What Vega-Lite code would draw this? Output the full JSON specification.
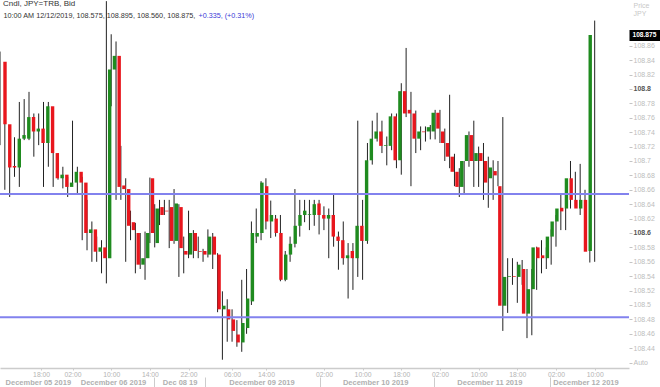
{
  "$schema": "https://vega.github.io/schema/vega-lite/v6.json",
  "width": 629,
  "height": 368,
  "autosize": {"type": "none"},
  "padding": {"left": 0, "top": 0, "right": 31, "bottom": 19},
  "background": "white",
  "config": {"view": {"stroke": null}, "font": "Liberation Sans"},
  "title": {"text": "Cndl, JPY=TRB, Bid", "anchor": "start", "frame": "group", "orient": "top", "offset": -8, "dx": 3, "fontSize": 8, "fontWeight": "normal", "color": "#333333", "font": "Liberation Sans"},
  "data": {"values": [
    {"i":0,"o":108.838,"h":108.852,"l":108.722,"c":108.751},
    {"i":1,"o":108.751,"h":108.776,"l":108.660,"c":108.691},
    {"i":2,"o":108.693,"h":108.715,"l":108.650,"c":108.691},
    {"i":3,"o":108.691,"h":108.733,"l":108.678,"c":108.731},
    {"i":4,"o":108.731,"h":108.782,"l":108.664,"c":108.736},
    {"i":5,"o":108.731,"h":108.786,"l":108.729,"c":108.761},
    {"i":6,"o":108.761,"h":108.796,"l":108.729,"c":108.741},
    {"i":7,"o":108.741,"h":108.766,"l":108.706,"c":108.745},
    {"i":8,"o":108.745,"h":108.766,"l":108.722,"c":108.725},
    {"i":9,"o":108.725,"h":108.782,"l":108.664,"c":108.776},
    {"i":10,"o":108.776,"h":108.782,"l":108.692,"c":108.711},
    {"i":11,"o":108.711,"h":108.731,"l":108.664,"c":108.676},
    {"i":12,"o":108.676,"h":108.711,"l":108.674,"c":108.681},
    {"i":13,"o":108.681,"h":108.692,"l":108.662,"c":108.664},
    {"i":14,"o":108.664,"h":108.678,"l":108.650,"c":108.670},
    {"i":15,"o":108.670,"h":108.756,"l":108.668,"c":108.685},
    {"i":16,"o":108.685,"h":108.692,"l":108.655,"c":108.670},
    {"i":17,"o":108.670,"h":108.678,"l":108.590,"c":108.600},
    {"i":18,"o":108.600,"h":108.646,"l":108.576,"c":108.605},
    {"i":19,"o":108.605,"h":108.616,"l":108.560,"c":108.574},
    {"i":20,"o":108.574,"h":108.595,"l":108.560,"c":108.580},
    {"i":21,"o":108.580,"h":108.590,"l":108.544,"c":108.565},
    {"i":22,"o":108.565,"h":108.922,"l":108.530,"c":108.827},
    {"i":23,"o":108.827,"h":108.876,"l":108.776,"c":108.846},
    {"i":24,"o":108.846,"h":108.866,"l":108.646,"c":108.664},
    {"i":25,"o":108.666,"h":108.721,"l":108.646,"c":108.661},
    {"i":26,"o":108.661,"h":108.676,"l":108.560,"c":108.610},
    {"i":27,"o":108.615,"h":108.631,"l":108.590,"c":108.604},
    {"i":28,"o":108.600,"h":108.614,"l":108.544,"c":108.556},
    {"i":29,"o":108.556,"h":108.600,"l":108.550,"c":108.565},
    {"i":30,"o":108.565,"h":108.602,"l":108.535,"c":108.600},
    {"i":31,"o":108.676,"h":108.677,"l":108.586,"c":108.600},
    {"i":32,"o":108.586,"h":108.640,"l":108.580,"c":108.634},
    {"i":33,"o":108.636,"h":108.646,"l":108.611,"c":108.625},
    {"i":34,"o":108.631,"h":108.646,"l":108.625,"c":108.630},
    {"i":35,"o":108.636,"h":108.646,"l":108.579,"c":108.589},
    {"i":36,"o":108.589,"h":108.661,"l":108.585,"c":108.641},
    {"i":37,"o":108.636,"h":108.640,"l":108.539,"c":108.579},
    {"i":38,"o":108.575,"h":108.595,"l":108.544,"c":108.570},
    {"i":39,"o":108.570,"h":108.631,"l":108.565,"c":108.600},
    {"i":40,"o":108.600,"h":108.604,"l":108.565,"c":108.575},
    {"i":41,"o":108.575,"h":108.595,"l":108.565,"c":108.574},
    {"i":42,"o":108.575,"h":108.578,"l":108.560,"c":108.570},
    {"i":43,"o":108.570,"h":108.605,"l":108.566,"c":108.595},
    {"i":44,"o":108.595,"h":108.600,"l":108.550,"c":108.570},
    {"i":45,"o":108.570,"h":108.572,"l":108.490,"c":108.494},
    {"i":46,"o":108.494,"h":108.519,"l":108.424,"c":108.499},
    {"i":47,"o":108.494,"h":108.508,"l":108.449,"c":108.480},
    {"i":48,"o":108.480,"h":108.494,"l":108.449,"c":108.464},
    {"i":49,"o":108.459,"h":108.479,"l":108.442,"c":108.448},
    {"i":50,"o":108.448,"h":108.535,"l":108.435,"c":108.475},
    {"i":51,"o":108.468,"h":108.550,"l":108.460,"c":108.509},
    {"i":52,"o":108.505,"h":108.616,"l":108.500,"c":108.600},
    {"i":53,"o":108.595,"h":108.634,"l":108.586,"c":108.600},
    {"i":54,"o":108.600,"h":108.672,"l":108.590,"c":108.670},
    {"i":55,"o":108.665,"h":108.676,"l":108.605,"c":108.616},
    {"i":56,"o":108.616,"h":108.645,"l":108.593,"c":108.625},
    {"i":57,"o":108.620,"h":108.625,"l":108.595,"c":108.600},
    {"i":58,"o":108.600,"h":108.625,"l":108.533,"c":108.535},
    {"i":59,"o":108.535,"h":108.575,"l":108.533,"c":108.570},
    {"i":60,"o":108.570,"h":108.595,"l":108.560,"c":108.585},
    {"i":61,"o":108.585,"h":108.661,"l":108.580,"c":108.610},
    {"i":62,"o":108.610,"h":108.646,"l":108.595,"c":108.625},
    {"i":63,"o":108.625,"h":108.646,"l":108.615,"c":108.631},
    {"i":64,"o":108.625,"h":108.646,"l":108.604,"c":108.626},
    {"i":65,"o":108.625,"h":108.646,"l":108.610,"c":108.640},
    {"i":66,"o":108.641,"h":108.646,"l":108.598,"c":108.625},
    {"i":67,"o":108.625,"h":108.637,"l":108.604,"c":108.620},
    {"i":68,"o":108.620,"h":108.634,"l":108.565,"c":108.625},
    {"i":69,"o":108.625,"h":108.655,"l":108.581,"c":108.595},
    {"i":70,"o":108.595,"h":108.602,"l":108.549,"c":108.589},
    {"i":71,"o":108.590,"h":108.616,"l":108.556,"c":108.565},
    {"i":72,"o":108.565,"h":108.586,"l":108.509,"c":108.569},
    {"i":73,"o":108.575,"h":108.586,"l":108.521,"c":108.565},
    {"i":74,"o":108.565,"h":108.756,"l":108.539,"c":108.610},
    {"i":75,"o":108.610,"h":108.646,"l":108.535,"c":108.589},
    {"i":76,"o":108.589,"h":108.725,"l":108.585,"c":108.701},
    {"i":77,"o":108.701,"h":108.756,"l":108.695,"c":108.731},
    {"i":78,"o":108.731,"h":108.767,"l":108.727,"c":108.741},
    {"i":79,"o":108.741,"h":108.756,"l":108.711,"c":108.721},
    {"i":80,"o":108.721,"h":108.734,"l":108.694,"c":108.722},
    {"i":81,"o":108.721,"h":108.766,"l":108.715,"c":108.762},
    {"i":82,"o":108.762,"h":108.766,"l":108.690,"c":108.701},
    {"i":83,"o":108.701,"h":108.808,"l":108.681,"c":108.797},
    {"i":84,"o":108.797,"h":108.857,"l":108.761,"c":108.766},
    {"i":85,"o":108.771,"h":108.796,"l":108.665,"c":108.766},
    {"i":86,"o":108.766,"h":108.770,"l":108.711,"c":108.731},
    {"i":87,"o":108.731,"h":108.748,"l":108.715,"c":108.741},
    {"i":88,"o":108.741,"h":108.748,"l":108.727,"c":108.740},
    {"i":89,"o":108.741,"h":108.750,"l":108.730,"c":108.747},
    {"i":90,"o":108.741,"h":108.771,"l":108.730,"c":108.767},
    {"i":91,"o":108.767,"h":108.771,"l":108.725,"c":108.745},
    {"i":92,"o":108.741,"h":108.745,"l":108.700,"c":108.725},
    {"i":93,"o":108.725,"h":108.792,"l":108.690,"c":108.706},
    {"i":94,"o":108.706,"h":108.710,"l":108.665,"c":108.685},
    {"i":95,"o":108.685,"h":108.690,"l":108.650,"c":108.664},
    {"i":96,"o":108.664,"h":108.700,"l":108.655,"c":108.700},
    {"i":97,"o":108.700,"h":108.741,"l":108.692,"c":108.736},
    {"i":98,"o":108.736,"h":108.756,"l":108.664,"c":108.700},
    {"i":99,"o":108.700,"h":108.720,"l":108.664,"c":108.711},
    {"i":100,"o":108.711,"h":108.725,"l":108.646,"c":108.700},
    {"i":101,"o":108.700,"h":108.706,"l":108.635,"c":108.670},
    {"i":102,"o":108.676,"h":108.701,"l":108.646,"c":108.691},
    {"i":103,"o":108.686,"h":108.700,"l":108.665,"c":108.680},
    {"i":104,"o":108.665,"h":108.761,"l":108.464,"c":108.499},
    {"i":105,"o":108.499,"h":108.565,"l":108.489,"c":108.539},
    {"i":106,"o":108.539,"h":108.565,"l":108.528,"c":108.540},
    {"i":107,"o":108.540,"h":108.560,"l":108.503,"c":108.539},
    {"i":108,"o":108.539,"h":108.5625,"l":108.528,"c":108.556},
    {"i":109,"o":108.550,"h":108.550,"l":108.454,"c":108.488},
    {"i":110,"o":108.488,"h":108.550,"l":108.458,"c":108.522},
    {"i":111,"o":108.522,"h":108.581,"l":108.521,"c":108.580},
    {"i":112,"o":108.580,"h":108.590,"l":108.544,"c":108.565},
    {"i":113,"o":108.569,"h":108.580,"l":108.550,"c":108.565},
    {"i":114,"o":108.565,"h":108.605,"l":108.556,"c":108.595},
    {"i":115,"o":108.595,"h":108.625,"l":108.581,"c":108.616},
    {"i":116,"o":108.616,"h":108.655,"l":108.604,"c":108.634},
    {"i":117,"o":108.635,"h":108.643,"l":108.604,"c":108.630},
    {"i":118,"o":108.634,"h":108.700,"l":108.634,"c":108.676},
    {"i":119,"o":108.676,"h":108.685,"l":108.637,"c":108.646},
    {"i":120,"o":108.646,"h":108.696,"l":108.625,"c":108.634},
    {"i":121,"o":108.634,"h":108.660,"l":108.620,"c":108.646},
    {"i":122,"o":108.646,"h":108.655,"l":108.559,"c":108.574},
    {"i":123,"o":108.575,"h":108.895,"l":108.560,"c":108.875}
  ]},
  "layer": [
    {
      "mark": {"type": "rule", "color": "#222222", "strokeWidth": 1, "clip": true},
      "encoding": {
        "x": {"field": "i", "type": "quantitative",
          "scale": {"domain": [0, 130.1], "nice": false, "zero": false},
          "axis": {"orient": "bottom", "offset": 0, "grid": false,
            "values": [8.5, 15, 23, 31, 39, 48, 55, 67, 75, 83, 91, 99, 107, 115, 123],
            "labelExpr": "['18:00','02:00','10:00','14:00','22:00','06:00','14:00','02:00','10:00','18:00','02:00','10:00','18:00','02:00','10:00'][indexof([8.5,15,23,31,39,48,55,67,75,83,91,99,107,115,123], datum.value)]",
            "domainColor": "#cccccc", "domainWidth": 1.5, "tickColor": "#cccccc", "tickSize": 2,
            "labelFont": "Liberation Sans", "labelFontSize": 6.8, "labelColor": "#b4b4b4", "labelPadding": 1,
            "labelOverlap": false, "labelFlush": false, "labelBound": false, "labelBaseline": "top",
            "title": "+0.335, (+0.31%)", "titleX": 198, "titleY": -350.5, "titleAlign": "left", "titleBaseline": "alphabetic", "titleAngle": 0,
            "titleFont": "Liberation Sans", "titleFontSize": 7.2, "titleFontWeight": "normal", "titleColor": "#3a3ad6"}
        },
        "y": {"field": "l", "type": "quantitative",
          "scale": {"domain": [108.4125, 108.9236], "nice": false, "zero": false},
          "axis": {"orient": "right", "grid": false, "domain": false,
            "values": [108.42, 108.44, 108.46, 108.48, 108.5, 108.52, 108.54, 108.56, 108.58, 108.6, 108.62, 108.64, 108.66, 108.68, 108.7, 108.72, 108.74, 108.76, 108.78, 108.8, 108.82, 108.84, 108.86, 108.875],
            "labelExpr": "datum.value == 108.42 ? 'Auto' : datum.value == 108.875 ? '108.875' : format(datum.value, '.2~f')",
            "labelFont": "Liberation Sans", "labelOverlap": false, "labelBound": false, "labelFlush": false,
            "labelPadding": {"condition": {"test": "datum.value == 108.875", "value": -28}, "value": 1},
            "labelFontSize": {"condition": {"test": "datum.value == 108.875", "value": 6.6}, "value": 7},
            "labelColor": {"condition": [{"test": "datum.value == 108.875", "value": "#ffffff"}, {"test": "datum.value == 108.8 || datum.value == 108.6", "value": "#555555"}], "value": "#bdbdbd"},
            "labelFontWeight": {"condition": {"test": "datum.value == 108.875 || datum.value == 108.8 || datum.value == 108.6", "value": "bold"}, "value": "normal"},
            "tickColor": {"condition": {"test": "datum.value == 108.875", "value": "#000000"}, "value": "#c4c4c4"},
            "tickWidth": {"condition": {"test": "datum.value == 108.875", "value": 11}, "value": 1},
            "tickSize": {"condition": {"test": "datum.value == 108.875", "value": 31}, "value": 3},
            "title": ["Price", "JPY"], "titleAngle": 0, "titleX": 4, "titleY": 1, "titleAlign": "left", "titleBaseline": "top",
            "titleFont": "Liberation Sans", "titleFontSize": 7, "titleFontWeight": "normal", "titleColor": "#c8c8c8", "titleLineHeight": 8.5}
        },
        "y2": {"field": "h"}
      }
    },
    {
      "mark": {"type": "bar", "size": 3.4, "clip": true},
      "encoding": {
        "x": {"field": "i", "type": "quantitative",
          "scale": {"domain": [0, 130.1], "nice": false, "zero": false},
          "axis": {"orient": "bottom", "offset": 9, "grid": false, "domain": false,
            "values": [6.9, 22.7, 36.7, 53.9, 77.8, 101.8, 122, 31.4, 42, 66.2, 90.2, 114.6],
            "labelExpr": "indexof([6.9,22.7,36.7,53.9,77.8,101.8,122], datum.value) >= 0 ? ['December 05 2019','December 06 2019','Dec 08 19','December 09 2019','December 10 2019','December 11 2019','December 12 2019'][indexof([6.9,22.7,36.7,53.9,77.8,101.8,122], datum.value)] : ''",
            "tickSize": 10, "tickColor": "#cccccc",
            "tickOpacity": {"condition": {"test": "indexof([31.4,42,66.2,90.2,114.6], datum.value) >= 0", "value": 1}, "value": 0},
            "labelPadding": -9, "labelBaseline": "top",
            "labelFont": "Liberation Sans", "labelFontSize": 7.5, "labelFontWeight": "bold", "labelColor": "#b0b0b0",
            "labelOverlap": false, "labelFlush": false, "labelBound": false,
            "title": "10:00 AM 12/12/2019, 108.575, 108.895, 108.560, 108.875,", "titleX": 3, "titleY": -359.5, "titleAlign": "left", "titleBaseline": "alphabetic", "titleAngle": 0,
            "titleFont": "Liberation Sans", "titleFontSize": 7.25, "titleFontWeight": "normal", "titleColor": "#333333"}
        },
        "y": {"field": "o", "type": "quantitative", "axis": null},
        "y2": {"field": "c"},
        "color": {"condition": {"test": "datum.c >= datum.o", "value": "#1f8b1f"}, "value": "#e8161d"}
      }
    },
    {
      "data": {"values": [{"level": 108.654}, {"level": 108.483}]},
      "mark": {"type": "rule", "color": "#8282ee", "strokeWidth": 2},
      "encoding": {"y": {"field": "level", "type": "quantitative", "axis": null}}
    }
  ],
  "resolve": {"scale": {"x": "independent"}, "axis": {"x": "independent", "y": "independent"}}
}
